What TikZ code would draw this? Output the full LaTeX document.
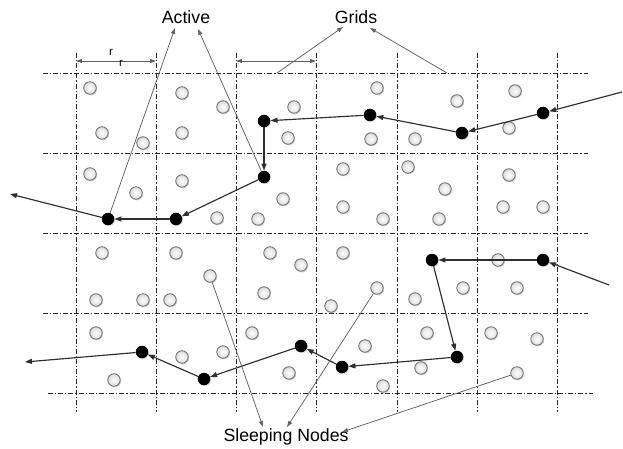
\documentclass[tikz,border=0pt]{standalone}
\usepackage{fontspec}
\setmainfont{Liberation Sans}
\usetikzlibrary{arrows.meta,shadows}
\begin{document}
\begin{tikzpicture}[x=1pt,y=-1pt,
  gridline/.style={draw=black!85, line width=0.8pt, dash pattern=on 5pt off 2pt on 1.2pt off 2pt},
  sleepnode/.style={circle, minimum size=12.5pt, inner sep=0pt, draw=black!58, line width=0.8pt,
     inner color=white, outer color=black!14,
     drop shadow={shadow xshift=1pt, shadow yshift=-1.2pt, opacity=0.35, fill=black!40}},
  activenode/.style={circle, minimum size=12.5pt, inner sep=0pt, fill=black,
     drop shadow={shadow xshift=0.8pt, shadow yshift=-0.8pt, opacity=0.3, fill=black!50}},
  hop/.style={draw=black!82, line width=1.15pt, -{Triangle[length=7pt,width=5pt]}},
  pointer/.style={draw=black!62, line width=0.75pt, -{Triangle[length=6pt,width=4pt]}},
  dimline/.style={draw=black!62, line width=0.8pt, {Triangle[length=6pt,width=4pt]}-{Triangle[length=6pt,width=4pt]}},
  lbl/.style={font=\fontsize{17.7}{20}\selectfont, inner sep=0pt},
  rlbl/.style={font=\fontsize{11.5}{13}\selectfont, inner sep=0pt}
]
\useasboundingbox (0,0) rectangle (623,449);
\fill[white] (0,0) rectangle (623,449);

% grid
\foreach \y in {73,153,233,313} \draw[gridline] (43,\y) -- (588,\y);
\draw[gridline] (48,393) -- (593,393);
\foreach \x in {76,156,236,316,397,477,557} \draw[gridline] (\x,53) -- (\x,412);

% dimension arrows
\coordinate (d1a) at (76,61);
\coordinate (d1b) at (156,61);
\coordinate (d2a) at (236,61);
\coordinate (d2b) at (316,61);
\draw[dimline] (d1a) -- (d1b);
\draw[dimline] (d2a) -- (d2b);
\node[rlbl] (r1) at (111,52) {r};
\node[rlbl] (r2) at (121,63) {r};

% sleeping nodes
\foreach \p [count=\i] in {
 (90,88),(182,93),(223,107),(294,107),(102,133),(182,133),(143,143),(288,138),
 (377,88),(457,101),(515,91),(509,128),(371,139),(415,139),
 (90,174),(182,181),(136,193),(283,199),(217,218),(258,219),(343,169),(408,167),
 (445,189),(509,175),(343,207),(383,219),(439,219),(503,207),(543,207),
 (102,253),(176,253),(270,253),(301,265),(96,300),(143,300),(170,300),(264,293),
 (343,253),(331,306),(415,299),(463,288),(517,288),(498,260),
 (96,333),(252,333),(182,357),(223,352),(114,380),(289,373),(365,346),(427,333),
 (491,333),(537,339),(421,368),(383,386)}
  \node[sleepnode] (s\i) at \p {};
\node[sleepnode] (sa) at (210,276) {};
\node[sleepnode] (sb) at (377,288) {};
\node[sleepnode] (sc) at (517,373) {};

% active nodes
\node[activenode] (a1) at (543,113) {};
\node[activenode] (a2) at (462,133) {};
\node[activenode] (a3) at (370,115) {};
\node[activenode] (a4) at (264,121) {};
\node[activenode] (a5) at (264,177) {};
\node[activenode] (a6) at (176,219) {};
\node[activenode] (a7) at (108,219) {};
\coordinate (t0) at (622,92);
\coordinate (t8) at (10,194);

\node[activenode] (b1) at (543,260) {};
\node[activenode] (b2) at (432,260) {};
\node[activenode] (b3) at (457,357) {};
\node[activenode] (b4) at (342,367) {};
\node[activenode] (b5) at (301,346) {};
\node[activenode] (b6) at (204,379) {};
\node[activenode] (b7) at (142,352) {};
\coordinate (m0) at (609,285);
\coordinate (m8) at (25,362);

% hops
\draw[hop] (t0) -- (a1);
\draw[hop] (a1) -- (a2);
\draw[hop] (a2) -- (a3);
\draw[hop] (a3) -- (a4);
\draw[hop] (a4) -- (a5);
\draw[hop] (a5) -- (a6);
\draw[hop] (a6) -- (a7);
\draw[hop] (a7) -- (t8);

\draw[hop] (m0) -- (b1);
\draw[hop] (b1) -- (b2);
\draw[hop] (b2) -- (b3);
\draw[hop] (b3) -- (b4);
\draw[hop] (b4) -- (b5);
\draw[hop] (b5) -- (b6);
\draw[hop] (b6) -- (b7);
\draw[hop] (b7) -- (m8);

% labels
\node[lbl] (active) at (186,17) {Active};
\node[lbl] (grids) at (356,17) {Grids};
\node[lbl] (sleeping) at (286,437) {Sleeping Nodes};

\coordinate (actL) at (175,28);
\coordinate (actR) at (198,29);
\draw[pointer] (a7) -- (actL);
\draw[pointer] (a5) -- (actR);

\coordinate (g1s) at (277,73);
\coordinate (g1e) at (343,27);
\coordinate (g2s) at (447,73);
\coordinate (g2e) at (370,28);
\draw[pointer] (g1s) -- (g1e);
\draw[pointer] (g2s) -- (g2e);

\coordinate (sl1) at (263,427);
\coordinate (sl2) at (287,427);
\coordinate (sl3) at (342,432);
\draw[pointer] (sa) -- (sl1);
\draw[pointer] (sb) -- (sl2);
\draw[pointer] (sc) -- (sl3);
\end{tikzpicture}
\end{document}
